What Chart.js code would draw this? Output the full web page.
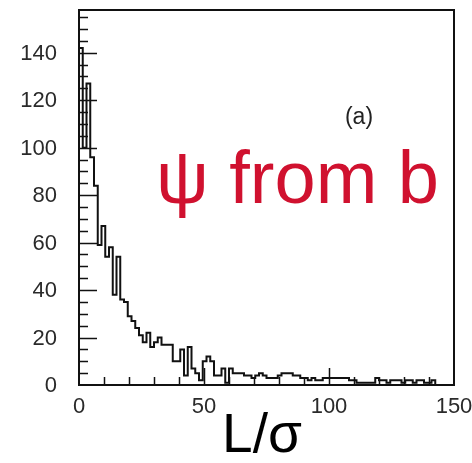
<!DOCTYPE html>
<html>
<head>
<meta charset="utf-8">
<script src="https://cdn.jsdelivr.net/npm/chart.js@4.4.1/dist/chart.umd.min.js"></script>
<style>
  html, body { margin: 0; padding: 0; background: #fff; }
  #wrap { width: 472px; height: 463px; }
</style>
</head>
<body>
<div id="wrap"><canvas id="hist" width="472" height="463"></canvas></div>
<script>
// histogram of L/sigma, 100 bins of width 1.5 from 0 to 150
const binWidth = 1.5;
const counts = [
  142, 100, 127, 96, 84, 59, 67, 54, 58, 38,
  54, 36, 35, 29, 27, 24, 21, 18, 22, 16,
  18, 20, 17, 17, 17, 10, 10, 15, 4, 16,
  7, 5, 2, 10, 12, 10, 4, 4, 7, 1,
  7, 5, 5, 5, 4, 4, 3, 4, 5, 4,
  3, 3, 3, 4, 5, 5, 5, 4, 4, 3,
  3, 2, 3, 2, 2, 3, 3, 3, 3, 3,
  3, 3, 2, 2, 1, 1, 1, 1, 1, 3,
  2, 2, 1, 2, 2, 2, 1, 2, 2, 1,
  2, 2, 1, 1, 2, 0, 0, 0, 0, 0
];
const xTickLabels = [0, 50, 100, 150];
const yTickLabels = [0, 20, 40, 60, 80, 100, 120, 140];
const xMinorStep = 10;
const yMinorStep = 5;

const FONT = '"Liberation Sans", Arial, sans-serif';

// step outline: one point per left bin edge, closed at the right end
const points = [{x: 0, y: 0}].concat(
  counts.map((c, i) => ({x: i * binWidth, y: c})),
  [{x: counts.length * binWidth, y: 0}]
);

const frameAndText = {
  id: 'frameAndText',
  afterDraw(chart) {
    const ctx = chart.ctx;
    const a = chart.chartArea;
    const xs = chart.scales.x;
    const ys = chart.scales.y;
    ctx.save();

    // frame
    ctx.strokeStyle = '#111';
    ctx.lineWidth = 2;
    ctx.strokeRect(a.left, a.top, a.right - a.left, a.bottom - a.top);

    // inward ticks
    ctx.lineWidth = 1.5;
    ctx.beginPath();
    for (let v = yMinorStep; v < ys.max; v += yMinorStep) {
      const py = Math.round(ys.getPixelForValue(v)) + 0.5;
      const len = yTickLabels.includes(v) ? 18 : 9;
      ctx.moveTo(a.left, py);
      ctx.lineTo(a.left + len, py);
    }
    for (let v = xMinorStep; v < xs.max; v += xMinorStep) {
      const px = Math.round(xs.getPixelForValue(v)) + 0.5;
      const len = xTickLabels.includes(v) ? 17 : 8;
      ctx.moveTo(px, a.bottom);
      ctx.lineTo(px, a.bottom - len);
    }
    ctx.stroke();

    // tick labels
    ctx.fillStyle = '#2a2a2a';
    ctx.font = '22px ' + FONT;
    ctx.textAlign = 'right';
    ctx.textBaseline = 'middle';
    yTickLabels.forEach(v => ctx.fillText(String(v), a.left - 22, ys.getPixelForValue(v) + 1));
    ctx.textAlign = 'center';
    ctx.textBaseline = 'top';
    xTickLabels.forEach(v => ctx.fillText(String(v), xs.getPixelForValue(v), a.bottom + 11));

    // axis title
    ctx.fillStyle = '#000';
    ctx.font = '55px ' + FONT;
    ctx.textBaseline = 'alphabetic';
    ctx.fillText('L/σ', 262, 452);

    // panel tag
    ctx.fillStyle = '#222';
    ctx.font = '23px ' + FONT;
    ctx.textBaseline = 'middle';
    ctx.fillText('(a)', 359, 118);

    // annotation
    ctx.fillStyle = '#d0112f';
    ctx.font = '74px ' + FONT;
    ctx.textAlign = 'right';
    ctx.textBaseline = 'alphabetic';
    ctx.fillText('ψ from b', 439, 203);

    ctx.restore();
  }
};

new Chart(document.getElementById('hist').getContext('2d'), {
  type: 'line',
  data: {
    datasets: [{
      data: points,
      stepped: 'before',
      borderColor: '#111',
      borderWidth: 2,
      pointRadius: 0,
      fill: false,
      tension: 0
    }]
  },
  options: {
    responsive: false,
    animation: false,
    devicePixelRatio: 1,
    layout: {padding: {left: 79, right: 18, top: 10, bottom: 78}},
    scales: {
      x: {type: 'linear', min: 0, max: 150, display: false},
      y: {type: 'linear', min: 0, max: 158, display: false}
    },
    plugins: {legend: {display: false}, tooltip: {enabled: false}}
  },
  plugins: [frameAndText]
});
</script>
</body>
</html>
